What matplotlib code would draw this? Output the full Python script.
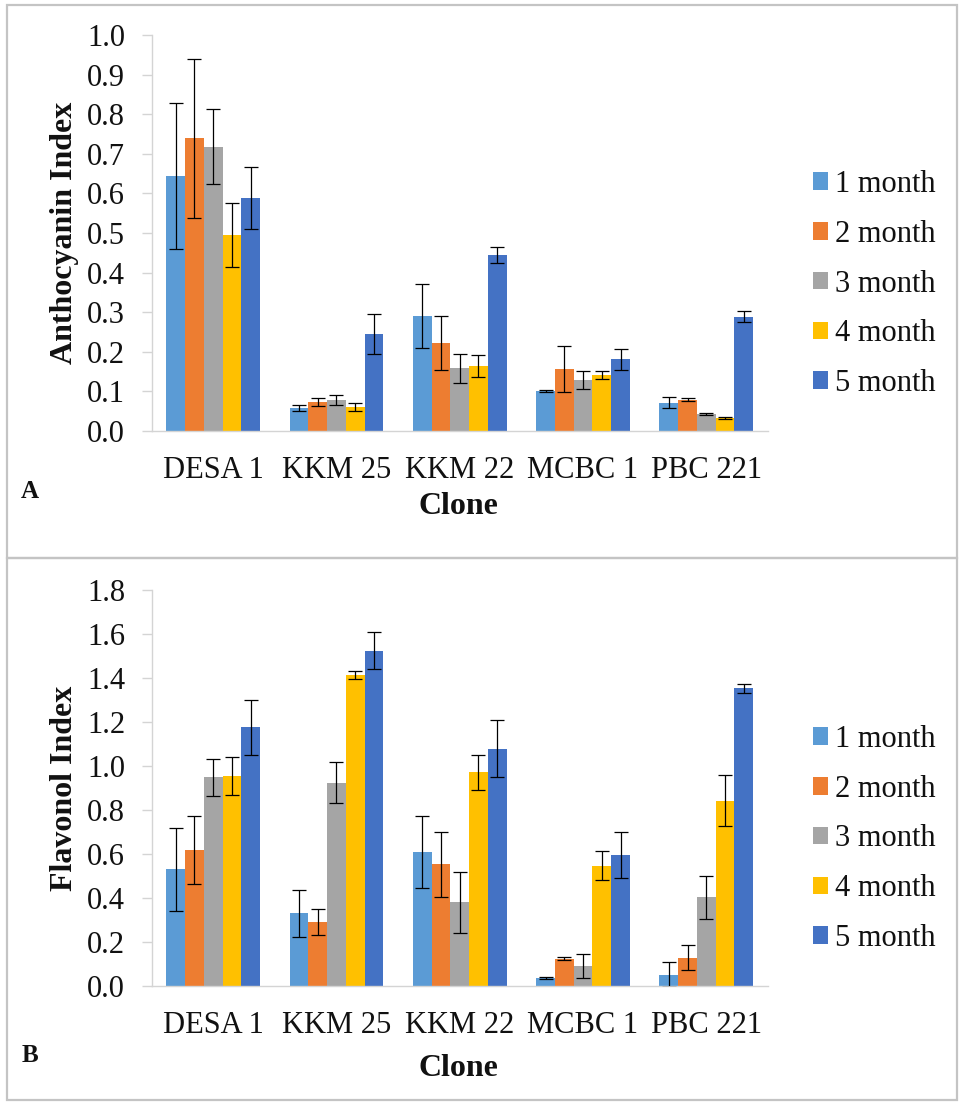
import numpy as np
import matplotlib
matplotlib.use('Agg')
import matplotlib.pyplot as plt
from matplotlib.patches import Rectangle

plt.rcParams['font.family'] = ['Liberation Serif', 'DejaVu Serif']

# Data

clones      = ['DESA 1', 'KKM 25', 'KKM 22', 'MCBC 1', 'PBC 221']
months      = ['1 month', '2 month', '3 month', '4 month', '5 month']
colors      = ['#5B9BD5', '#ED7D31', '#A5A5A5', '#FFC000', '#4472C4']

# Anthocyanin index, one list per month, one value per clone
antho_1m    = [0.644, 0.058, 0.290, 0.101, 0.071]
antho_2m    = [0.739, 0.074, 0.222, 0.157, 0.079]
antho_3m    = [0.718, 0.079, 0.158, 0.128, 0.043]
antho_4m    = [0.495, 0.060, 0.164, 0.141, 0.033]
antho_5m    = [0.588, 0.245, 0.444, 0.181, 0.289]

antho_err_1m = [0.185, 0.008, 0.080, 0.003, 0.014]
antho_err_2m = [0.200, 0.010, 0.068, 0.058, 0.004]
antho_err_3m = [0.095, 0.013, 0.037, 0.023, 0.003]
antho_err_4m = [0.080, 0.010, 0.027, 0.010, 0.003]
antho_err_5m = [0.079, 0.050, 0.020, 0.027, 0.013]

# Flavonol index
flav_1m     = [0.530, 0.330, 0.610, 0.035, 0.052]
flav_2m     = [0.620, 0.290, 0.553, 0.125, 0.129]
flav_3m     = [0.948, 0.925, 0.380, 0.091, 0.403]
flav_4m     = [0.953, 1.412, 0.972, 0.547, 0.843]
flav_5m     = [1.177, 1.525, 1.079, 0.595, 1.353]

flav_err_1m = [0.190, 0.105, 0.165, 0.005, 0.055]
flav_err_2m = [0.155, 0.060, 0.148, 0.005, 0.057]
flav_err_3m = [0.085, 0.095, 0.140, 0.053, 0.097]
flav_err_4m = [0.087, 0.018, 0.080, 0.065, 0.115]
flav_err_5m = [0.125, 0.085, 0.130, 0.105, 0.020]

antho       = [antho_1m, antho_2m, antho_3m, antho_4m, antho_5m]
antho_err   = [antho_err_1m, antho_err_2m, antho_err_3m, antho_err_4m, antho_err_5m]
flav        = [flav_1m, flav_2m, flav_3m, flav_4m, flav_5m]
flav_err    = [flav_err_1m, flav_err_2m, flav_err_3m, flav_err_4m, flav_err_5m]

#%% Figure

W, H        = 959, 1105
fig = plt.figure(figsize=(W / 100, H / 100), dpi=100)

def fx(px):
    return px / W

def fy(py):
    return 1 - py / H

# panel frames
for top, bot in [(5, 558), (558, 1100)]:
    fig.patches.append(Rectangle((fx(7), fy(bot)), fx(957) - fx(7), fy(top) - fy(bot),
                                 transform=fig.transFigure, fill=False,
                                 edgecolor='#C4C4C4', linewidth=1.6))

bar_w       = 0.152
x           = np.arange(len(clones))
axis_grey   = '#D4D4D4'
txt         = '#111111'
fs          = 22


def draw_panel(ax_top_px, ax_bot_px, vals, errs, ymax, ystep, ylabel, letter, clone_y, letter_y, leg_y):
    ax = fig.add_axes([fx(151.5), fy(ax_bot_px), fx(768) - fx(151.5), fy(ax_top_px) - fy(ax_bot_px)])
    for i in range(len(months)):
        pos = x + (i - 2) * bar_w
        ax.bar(pos, vals[i], bar_w, color=colors[i], label=months[i], zorder=2)
        ax.errorbar(pos, vals[i], yerr=errs[i], fmt='none', ecolor='black',
                    elinewidth=0.9, capsize=5, capthick=0.9, zorder=3)
    ax.set_xlim(-0.5, len(clones) - 0.5)
    ax.set_ylim(0, ymax)
    yt = np.arange(0, ymax + ystep / 2, ystep)
    ax.set_yticks(yt)
    ax.set_yticklabels(['%.1f' % v for v in yt])
    ax.set_xticks(x)
    ax.set_xticklabels(clones)
    for s in ['top', 'right']:
        ax.spines[s].set_visible(False)
    for s in ['left', 'bottom']:
        ax.spines[s].set_color(axis_grey)
        ax.spines[s].set_linewidth(1.0)
    ax.tick_params(axis='y', direction='out', length=7, width=1.0, color=axis_grey,
                   pad=12, labelsize=fs, labelcolor=txt)
    ax.tick_params(axis='x', length=0, pad=18, labelsize=fs, labelcolor=txt)
    ax.set_ylabel(ylabel, fontsize=23, fontweight='bold', color=txt)
    ax.yaxis.set_label_coords(-0.118, 0.5)
    fig.text(fx(458), fy(clone_y), 'Clone', ha='center', va='center',
             fontsize=23, fontweight='bold', color=txt)
    fig.text(fx(30), fy(letter_y), letter, ha='center', va='center',
             fontsize=18, fontweight='bold', color=txt)
    ax.legend(loc='center left', bbox_to_anchor=(fx(785), fy(leg_y)),
              bbox_transform=fig.transFigure, frameon=False, fontsize=fs,
              handlelength=0.5, handleheight=0.5, handletextpad=0.25,
              labelspacing=0.68, labelcolor=txt)
    return ax


ax1 = draw_panel(35, 431, antho, antho_err, 1.0, 0.1, 'Anthocyanin Index', 'A', 507, 492, 284)
ax2 = draw_panel(590, 986, flav, flav_err, 1.8, 0.2, 'Flavonol Index', 'B', 1068, 1055, 839)

plt.savefig('out.png', dpi=100)
